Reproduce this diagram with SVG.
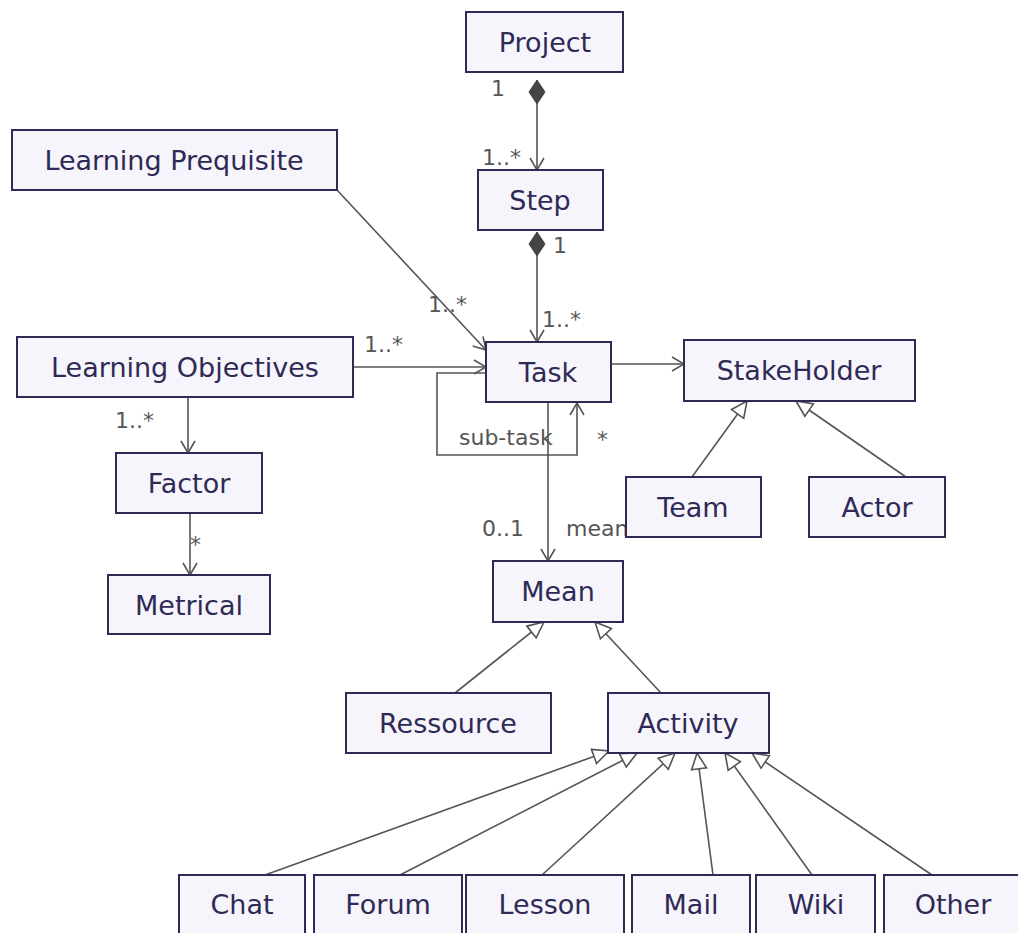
<svg xmlns="http://www.w3.org/2000/svg" width="1018" height="933" viewBox="0 0 1018 933">
<style>
.node rect{fill:#f5f5fb;stroke:#2f2a55;stroke-width:2}
.node text{font-family:"DejaVu Sans",Verdana,sans-serif;font-size:27px;fill:#2f2a55;text-anchor:middle}
.edge{fill:none;stroke:#555;stroke-width:1.6}
.lbl{font-family:"DejaVu Sans",Verdana,sans-serif;font-size:22px;fill:#555}
</style>
<defs>
<marker id="open" markerUnits="userSpaceOnUse" viewBox="0 0 14 16" refX="13" refY="8" markerWidth="14" markerHeight="16" orient="auto">
<path d="M1,1 L13,8 L1,15" fill="none" stroke="#555" stroke-width="1.6"/>
</marker>
<marker id="tri" markerUnits="userSpaceOnUse" viewBox="0 0 18 18" refX="17" refY="9" markerWidth="18" markerHeight="18" orient="auto">
<path d="M1,1.5 L17,9 L1,16.5 Z" fill="#fff" stroke="#555" stroke-width="1.6"/>
</marker>
<marker id="dia" markerUnits="userSpaceOnUse" viewBox="0 0 24 18" refX="0" refY="9" markerWidth="24" markerHeight="18" orient="auto">
<path d="M0,9 L12,1 L24,9 L12,17 Z" fill="#444" stroke="#444" stroke-width="1"/>
</marker>
</defs>
<rect width="1018" height="933" fill="#fff"/>
<g id="connectors">
<line class="edge" x1="537" y1="80" x2="537" y2="170" marker-start="url(#dia)" marker-end="url(#open)"/>
<line class="edge" x1="537" y1="232" x2="537" y2="342" marker-start="url(#dia)" marker-end="url(#open)"/>
<line class="edge" x1="337" y1="190" x2="486" y2="350" marker-end="url(#open)"/>
<line class="edge" x1="353" y1="367" x2="486" y2="367" marker-end="url(#open)"/>
<polyline class="edge" points="486,373 437,373 437,455 577,455 577,403" marker-end="url(#open)"/>
<line class="edge" x1="611" y1="364" x2="684" y2="364" marker-end="url(#open)"/>
<line class="edge" x1="188" y1="397" x2="188" y2="453" marker-end="url(#open)"/>
<line class="edge" x1="190" y1="513" x2="190" y2="575" marker-end="url(#open)"/>
<line class="edge" x1="548" y1="402" x2="548" y2="561" marker-end="url(#open)"/>
<line class="edge" x1="692" y1="477" x2="747" y2="401" marker-end="url(#tri)"/>
<line class="edge" x1="906" y1="477" x2="796" y2="401" marker-end="url(#tri)"/>
<line class="edge" x1="455" y1="693" x2="544" y2="622" marker-end="url(#tri)"/>
<line class="edge" x1="661" y1="693" x2="595" y2="622" marker-end="url(#tri)"/>
<line class="edge" x1="265" y1="875" x2="609" y2="751" marker-end="url(#tri)"/>
<line class="edge" x1="400" y1="875" x2="637" y2="753" marker-end="url(#tri)"/>
<line class="edge" x1="542" y1="875" x2="675" y2="753" marker-end="url(#tri)"/>
<line class="edge" x1="713" y1="875" x2="697" y2="753" marker-end="url(#tri)"/>
<line class="edge" x1="812" y1="875" x2="725" y2="753" marker-end="url(#tri)"/>
<line class="edge" x1="932" y1="875" x2="752" y2="753" marker-end="url(#tri)"/>
</g>
<g id="labels">
<text class="lbl" x="491" y="96">1</text>
<text class="lbl" x="482" y="165">1..*</text>
<text class="lbl" x="553" y="253">1</text>
<text class="lbl" x="542" y="327">1..*</text>
<text class="lbl" x="428" y="312">1..*</text>
<text class="lbl" x="364" y="352">1..*</text>
<text class="lbl" x="115" y="428">1..*</text>
<text class="lbl" x="190" y="552">*</text>
<text class="lbl" x="459" y="445">sub-task</text>
<text class="lbl" x="597" y="447">*</text>
<text class="lbl" x="482" y="536">0..1</text>
<text class="lbl" x="566" y="536">mean</text>
</g>
<g id="Project" class="node"><rect x="466" y="12" width="157" height="60"/><text x="545" y="52">Project</text></g>
<g id="Step" class="node"><rect x="478" y="170" width="125" height="60"/><text x="540" y="210">Step</text></g>
<g id="LearningPrequisite" class="node"><rect x="12" y="130" width="325" height="60"/><text x="174" y="170">Learning Prequisite</text></g>
<g id="LearningObjectives" class="node"><rect x="17" y="337" width="336" height="60"/><text x="185" y="377">Learning Objectives</text></g>
<g id="Task" class="node"><rect x="486" y="342" width="125" height="60"/><text x="548" y="382">Task</text></g>
<g id="StakeHolder" class="node"><rect x="684" y="340" width="231" height="61"/><text x="799" y="380">StakeHolder</text></g>
<g id="Factor" class="node"><rect x="116" y="453" width="146" height="60"/><text x="189" y="493">Factor</text></g>
<g id="Metrical" class="node"><rect x="108" y="575" width="162" height="59"/><text x="189" y="615">Metrical</text></g>
<g id="Team" class="node"><rect x="626" y="477" width="135" height="60"/><text x="693" y="517">Team</text></g>
<g id="Actor" class="node"><rect x="809" y="477" width="136" height="60"/><text x="877" y="517">Actor</text></g>
<g id="Mean" class="node"><rect x="493" y="561" width="130" height="61"/><text x="558" y="601">Mean</text></g>
<g id="Ressource" class="node"><rect x="346" y="693" width="205" height="60"/><text x="448" y="733">Ressource</text></g>
<g id="Activity" class="node"><rect x="608" y="693" width="161" height="60"/><text x="688" y="733">Activity</text></g>
<g id="Chat" class="node"><rect x="179" y="875" width="126" height="70"/><text x="242" y="914">Chat</text></g>
<g id="Forum" class="node"><rect x="314" y="875" width="148" height="70"/><text x="388" y="914">Forum</text></g>
<g id="Lesson" class="node"><rect x="466" y="875" width="158" height="70"/><text x="545" y="914">Lesson</text></g>
<g id="Mail" class="node"><rect x="632" y="875" width="118" height="70"/><text x="691" y="914">Mail</text></g>
<g id="Wiki" class="node"><rect x="756" y="875" width="119" height="70"/><text x="816" y="914">Wiki</text></g>
<g id="Other" class="node"><rect x="884" y="875" width="138" height="70"/><text x="953" y="914">Other</text></g>
</svg>
